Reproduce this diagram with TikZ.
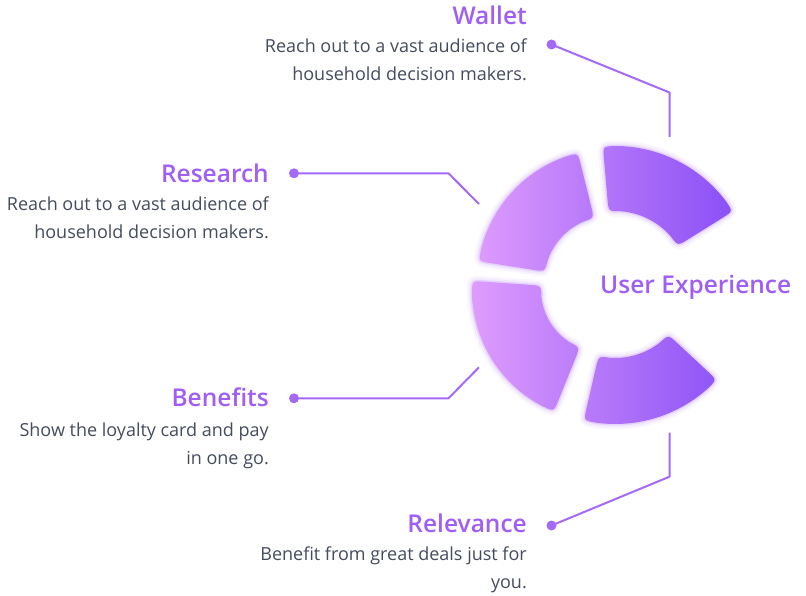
\documentclass[tikz,border=0pt]{standalone}
\usepackage{fontspec}
\setmainfont{Open Sans}
\IfFontExistsTF{Open Sans SemiBold}{\newfontfamily\ttlfont{Open Sans SemiBold}}{%
  \IfFontExistsTF{Open Sans Semibold}{\newfontfamily\ttlfont{Open Sans Semibold}}{%
    \newfontfamily\ttlfont{Open Sans}[FakeBold=2.2]}}
\definecolor{gA}{HTML}{DE9CFD}
\definecolor{gB}{HTML}{8A50F6}
\definecolor{ttl}{HTML}{A05EF6}
\definecolor{bodyc}{HTML}{444C5E}
\definecolor{conn}{HTML}{A46AF7}
\definecolor{glowc}{HTML}{B98AFA}
\newcommand\ringseg[8]{%
  \pgfmathsetmacro\segdO{deg(#7/#3)}%
  \pgfmathsetmacro\segdI{deg(#7/#4)}%
  \pgfmathsetmacro\segoA{#5+\segdO}\pgfmathsetmacro\segoB{#6-\segdO}%
  \pgfmathsetmacro\segiA{#5+\segdI}\pgfmathsetmacro\segiB{#6-\segdI}%
  \pgfmathsetmacro\segRc{#3-#7}\pgfmathsetmacro\segrc{#4+#7}%
  \path[#8,shift={(#1,#2)}] (\segoA:#3) arc[start angle=\segoA, end angle=\segoB, radius=#3]
    .. controls (#6:#3) .. (#6:\segRc) -- (#6:\segrc) .. controls (#6:#4) .. (\segiB:#4)
    arc[start angle=\segiB, end angle=\segiA, radius=#4]
    .. controls (#5:#4) .. (#5:\segrc) -- (#5:\segRc) .. controls (#5:#3) .. (\segoA:#3) -- cycle;
}
\tikzset{
  seg/.style={draw=none,
    preaction={draw=glowc, line width=11pt, opacity=0.07, line join=round},
    preaction={draw=glowc, line width=7pt, opacity=0.10, line join=round},
    preaction={draw=glowc, line width=3pt, opacity=0.25, line join=round}},
  ttlnode/.style={font=\ttlfont\fontsize{24.5}{29}\selectfont, text=ttl, inner sep=0pt},
  bodynode/.style={font=\fontsize{18}{22}\selectfont, text=bodyc, inner sep=0pt},
  dotnode/.style={circle, fill=conn, minimum size=10pt, inner sep=0pt},
  connline/.style={draw=conn, line width=2pt, line join=round},
}
\begin{document}
\begin{tikzpicture}[x=1pt,y=1pt]
\fill[white] (0,0) rectangle (806,595);
\useasboundingbox (0,0) rectangle (806,595);

% ring segments
\ringseg{615}{310}{139}{74}{32}{95}{12}{seg, left color=gA!49!gB, right color=gB}
\ringseg{610}{313}{133}{66}{104}{171}{12}{seg, left color=gA!98!gB, right color=gA!53!gB}
\ringseg{603}{305}{131}{62}{176}{248}{12}{seg, left color=gA, right color=gA!58!gB}
\ringseg{615}{310}{139}{73}{257}{317}{12}{seg, left color=gA!57!gB, right color=gA!7!gB}

% centre label
\node[ttlnode, anchor=base west] (ux) at (600,301) {User Experience};

% Wallet
\node[ttlnode, anchor=base east] (wt) at (527,570) {Wallet};
\node[bodynode, anchor=base east] (w1) at (527,542) {Reach out to a vast audience of};
\node[bodynode, anchor=base east] (w2) at (527,514) {household decision makers.};
\node[dotnode] (wd) at (551.5,550.5) {};
\coordinate (wb) at (669.5,502.5);
\coordinate (we) at (669.5,458);
\draw[connline] (wd.center) -- (wb) -- (we);

% Research
\node[ttlnode, anchor=base east] (rt) at (269,412) {Research};
\node[bodynode, anchor=base east] (r1) at (269,384) {Reach out to a vast audience of};
\node[bodynode, anchor=base east] (r2) at (269,356) {household decision makers.};
\node[dotnode] (rd) at (294,421.7) {};
\coordinate (rb) at (448.5,421.7);
\coordinate (re) at (479,391);
\draw[connline] (rd.center) -- (rb) -- (re);

% Benefits
\node[ttlnode, anchor=base east] (bt) at (269,188) {Benefits};
\node[bodynode, anchor=base east] (b1) at (269,158) {Show the loyalty card and pay};
\node[bodynode, anchor=base east] (b2) at (269,131) {in one go.};
\node[dotnode] (bd) at (294,196.7) {};
\coordinate (bb) at (448.5,196.7);
\coordinate (be) at (479,227.7);
\draw[connline] (bd.center) -- (bb) -- (be);

% Relevance
\node[ttlnode, anchor=base east] (lt) at (527,63) {Relevance};
\node[bodynode, anchor=base east] (l1) at (527,35) {Benefit from great deals just for};
\node[bodynode, anchor=base east] (l2) at (527,7) {you.};
\node[dotnode] (ld) at (551.5,69.5) {};
\coordinate (lb) at (669.5,118.3);
\coordinate (le) at (669.5,162.5);
\draw[connline] (ld.center) -- (lb) -- (le);
\end{tikzpicture}
\end{document}
